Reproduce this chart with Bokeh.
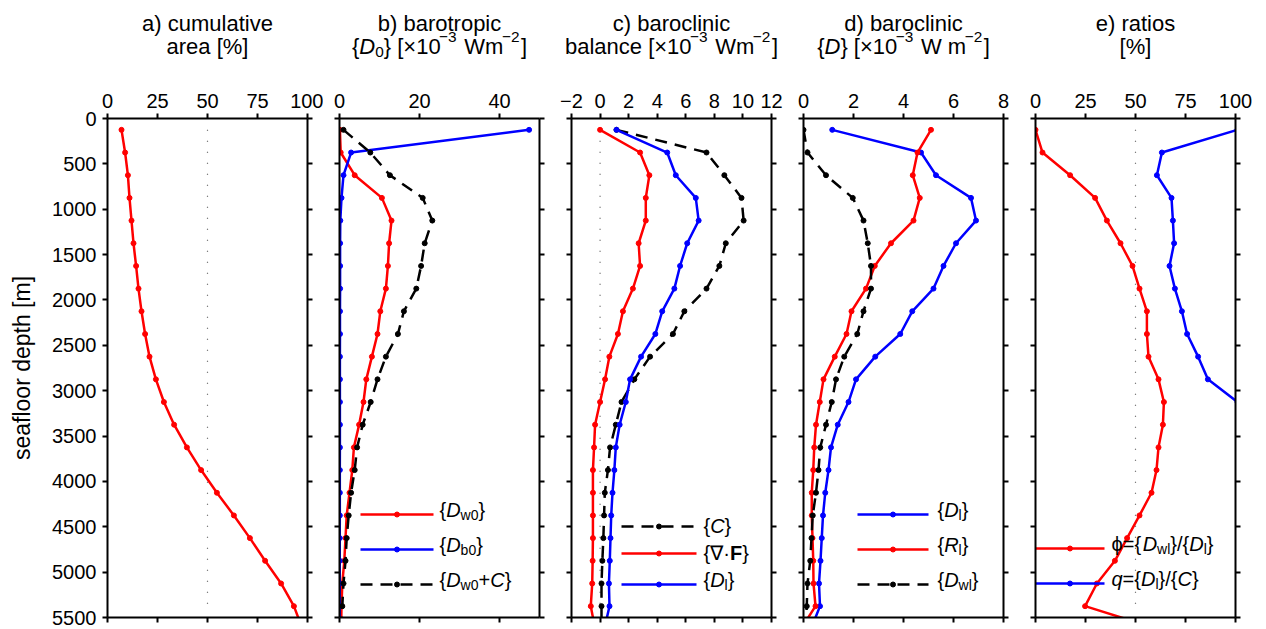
from bokeh.plotting import figure
from bokeh.models import Label, LinearAxis, FixedTicker, CustomJSTickFormatter, Range1d
from bokeh.layouts import row, column
from bokeh.embed import file_html
from bokeh.resources import INLINE

FONT = "Liberation Sans"

# ---------------- data ----------------
depth = [125, 375, 625, 875, 1125, 1375, 1625, 1875, 2125, 2375, 2625, 2875,
         3125, 3375, 3625, 3875, 4125, 4375, 4625, 4875, 5125, 5375, 5625]

# a) cumulative area [%]
area = [7.0, 8.8, 10.2, 11.0, 12.0, 13.0, 14.3, 15.5, 17.0, 18.8, 21.0, 24.2,
        28.2, 33.3, 39.7, 46.8, 54.7, 63.2, 71.2, 78.8, 86.8, 93.2, 97.5]

# b) barotropic
D_w0 = [0.1, 0.3, 3.8, 10.6, 13.0, 12.4, 12.1, 11.6, 10.2, 9.5, 8.1, 6.7,
        6.0, 4.9, 3.6, 3.2, 2.5, 1.8, 1.5, 1.2, 0.7, 0.5, 0.4]
D_b0 = [47.4, 2.9, 1.0, 0.5, 0.2, 0.15, 0.15, 0.15, 0.12, 0.12, 0.1, 0.1,
        0.1, 0.1, 0.1, 0.08, 0.08, 0.08, 0.06, 0.06, 0.06, 0.05, 0.05]
D_w0C = [1.0, 7.7, 12.6, 20.8, 23.2, 21.3, 20.4, 19.2, 16.1, 14.6, 11.6, 9.5,
         7.8, 5.8, 4.4, 3.8, 2.9, 2.3, 1.8, 1.5, 1.0, 0.7, 0.5]

# c) baroclinic balance
C = [1.15, 7.45, 8.7, 9.9, 10.05, 8.8, 8.35, 7.45, 5.9, 5.1, 3.5, 2.4,
     1.5, 1.1, 0.7, 0.55, 0.33, 0.28, 0.23, 0.16, 0.1, 0.1, 0.1]
divF = [0.0, 2.8, 3.45, 3.2, 3.2, 2.7, 2.8, 2.3, 1.6, 1.25, 0.65, 0.35,
        0.0, -0.35, -0.42, -0.5, -0.5, -0.5, -0.5, -0.52, -0.55, -0.65, -0.35]
D_l = [1.15, 4.7, 5.3, 6.7, 6.9, 6.1, 5.6, 5.2, 4.35, 3.87, 2.87, 2.1,
       1.8, 1.37, 1.1, 1.0, 0.87, 0.78, 0.73, 0.68, 0.62, 0.66, 0.3]

# d) baroclinic
R_l = [5.1, 4.56, 4.37, 4.65, 4.4, 3.5, 2.85, 2.5, 1.92, 1.72, 1.25, 0.8,
       0.65, 0.5, 0.43, 0.39, 0.33, 0.33, 0.36, 0.39, 0.4, 0.48, -0.1]
D_wl = [0.0, 0.16, 0.9, 1.97, 2.4, 2.57, 2.7, 2.7, 2.4, 2.15, 1.63, 1.3,
        1.13, 0.9, 0.67, 0.6, 0.5, 0.37, 0.32, 0.27, 0.16, 0.13, 0.1]

# e) ratios [%]
phi = [0.0, 3.5, 17.3, 29.8, 35.7, 42.5, 48.5, 52.0, 55.7, 55.7, 56.5, 61.5,
       64.2, 63.7, 61.5, 60.5, 58.0, 52.0, 45.8, 39.7, 30.7, 24.8, 61.0]
q = [101.0, 63.2, 60.7, 68.0, 68.7, 69.3, 67.0, 69.7, 73.2, 75.8, 81.3, 86.2,
     101.0, 123.0, 157.0, 182.0, 270.0, 286.0, 326.0, 437.0, 650.0, 650.0, 700.0]

xlims = [(0, 100), (0, 50), (-2, 12), (0, 8), (0, 100)]
xticks = [[0, 25, 50, 75, 100], [0, 20, 40], [-2, 0, 2, 4, 6, 8, 10, 12],
          [0, 2, 4, 6, 8], [0, 25, 50, 75, 100]]
yticks = list(range(0, 5501, 500))
ylim = (5500, 0)
ref_lines = {0: 50, 2: 0, 4: 50}

RED, BLUE, BLACK = "#ff0000", "#0000ff", "#000000"

# ------------- text helper (rich text with sub/superscripts) -------------
W = {' ': 278, '%': 889, '(': 333, ')': 333, '+': 584, '-': 333, '.': 278,
     '/': 278, '=': 584, '[': 278, ']': 278, '{': 334, '}': 334, '×': 584,
     '−': 584, '·': 278, '∇': 713, 'ϕ': 640,
     'a': 556, 'b': 556, 'c': 500, 'd': 556, 'e': 556, 'f': 278, 'g': 556,
     'h': 556, 'i': 222, 'j': 222, 'k': 500, 'l': 222, 'm': 833, 'n': 556,
     'o': 556, 'p': 556, 'q': 556, 'r': 333, 's': 500, 't': 278, 'u': 556,
     'v': 500, 'w': 722, 'x': 500, 'y': 500, 'z': 500,
     'C': 722, 'D': 722, 'F': 611, 'R': 722, 'W': 944}

BASE_FIX = 8.0  # rendered text sits lower than requested baseline


def tw(s, fs):
    return sum(W.get(c, 556) for c in s) / 1000.0 * fs


def rich(p, x, y, pieces, size, anchor="left", dy=0.0):
    items = []
    for piece in pieces:
        text, kind = piece if isinstance(piece, tuple) else (piece, "n")
        scale = 0.7 if kind in ("sub", "sup") else 1.0
        shift = {"sub": -0.26 * size, "sup": 0.4 * size}.get(kind, 0.0)
        nudge = -1.5 if kind == "sup" else 0.0
        style = {"i": "italic", "b": "bold"}.get(kind, "normal")
        fs = size * scale
        items.append((text, fs, shift, style, tw(text, fs), nudge))
    total = sum(it[4] for it in items)
    cur = -total / 2.0 if anchor == "center" else 0.0
    for text, fs, shift, style, w, nudge in items:
        body = text.lstrip(" ")
        lead = tw(text[:len(text) - len(body)], fs)
        p.add_layout(Label(x=x, y=y, x_offset=cur + lead + nudge,
                           y_offset=dy + shift + BASE_FIX,
                           text=body.rstrip(" "),
                           text_font=FONT, text_font_size=f"{fs:.1f}px",
                           text_font_style=style, text_baseline="alphabetic",
                           text_align="left", text_color="black"))
        cur += w


titles = [
    (["a) cumulative"], ["area [%]"]),
    (["b) barotropic"], ["{", ("D", "i"), ("0", "sub"), "} [×10", ("−3", "sup"), " Wm", ("−2", "sup"), "]"]),
    (["c) baroclinic"], ["balance [×10", ("−3", "sup"), " Wm", ("−2", "sup"), "]"]),
    (["d) baroclinic"], ["{", ("D", "i"), "} [×10", ("−3", "sup"), " W m", ("−2", "sup"), "]"]),
    (["e) ratios"], ["[%]"]),
]

series = [
    [(area, RED, "solid")],
    [(D_w0, RED, "solid"), (D_b0, BLUE, "solid"), (D_w0C, BLACK, "dashed")],
    [(C, BLACK, "dashed"), (divF, RED, "solid"), (D_l, BLUE, "solid")],
    [(D_l, BLUE, "solid"), (R_l, RED, "solid"), (D_wl, BLACK, "dashed")],
    [(phi, RED, "solid"), (q, BLUE, "solid")],
]

# legend layout: (line start px, line end px, text px, [(row y px, color, dash, pieces, dy)])
legends = {
    1: (21, 94, 100, [(396, RED, "solid", ["{", ("D", "i"), ("w0", "sub"), "}"], -3),
                      (431, BLUE, "solid", ["{", ("D", "i"), ("b0", "sub"), "}"], -3),
                      (466, BLACK, "dashed", ["{", ("D", "i"), ("w0", "sub"), "+", ("C", "i"), "}"], -3)]),
    2: (50, 125, 132, [(408, BLACK, "dashed", ["{", ("C", "i"), "}"], -7),
                       (435, RED, "solid", ["{∇·", ("F", "b"), "}"], -7),
                       (466, BLUE, "solid", ["{", ("D", "i"), ("l", "sub"), "}"], -3)]),
    3: (54, 125, 134, [(396, BLUE, "solid", ["{", ("D", "i"), ("l", "sub"), "}"], -3),
                       (431, RED, "solid", ["{", ("R", "i"), ("l", "sub"), "}"], -3),
                       (466, BLACK, "dashed", ["{", ("D", "i"), ("wl", "sub"), "}"], -3)]),
    4: (0, 69, 76, [(430, RED, "solid", ["ϕ={", ("D", "i"), ("wl", "sub"), "}/{", ("D", "i"), ("l", "sub"), "}"], -3),
                    (465, BLUE, "solid", [("q", "i"), "={", ("D", "i"), ("l", "sub"), "}/{", ("C", "i"), "}"], -3)]),
}

FW, FH = 200, 499
LEFT0, GAP, RIGHT_LAST = 107, 16, 26
TITLE_H = 70
TOP = 118 - TITLE_H


def style_axis(ax, ticks, labels=True, overrides=None):
    ax.ticker = FixedTicker(ticks=ticks)
    ax.axis_line_width = 2
    ax.axis_line_color = "black"
    ax.major_tick_line_width = 2
    ax.major_tick_in = 0
    ax.major_tick_out = 5
    ax.minor_tick_in = 0
    ax.minor_tick_out = 0
    ax.major_label_standoff = 6
    ax.major_label_text_font = FONT
    ax.major_label_text_color = "black"
    if labels:
        ax.major_label_text_font_size = "20px"
        if overrides:
            ax.major_label_overrides = overrides
    else:
        ax.formatter = CustomJSTickFormatter(code="return ''")
        ax.major_label_text_font_size = "0px"


figs = []
centers = []
xpos = 0
for i in range(5):
    x0, x1 = xlims[i]
    bl = LEFT0 if i == 0 else GAP
    br = RIGHT_LAST if i == 4 else GAP
    centers.append(xpos + bl + FW / 2.0)
    xpos += bl + FW + br
    p = figure(frame_width=FW, frame_height=FH,
               x_range=Range1d(x0, x1), y_range=Range1d(*ylim),
               x_axis_location="above",
               min_border_left=bl, min_border_right=br,
               min_border_top=TOP, min_border_bottom=12,
               output_backend="svg", toolbar_location=None, tools="")
    p.xgrid.visible = False
    p.ygrid.visible = False
    p.outline_line_color = None
    p.background_fill_color = "white"
    p.border_fill_color = "white"

    ov = {t: str(t).replace("-", "\u2212") for t in xticks[i] if t < 0}
    style_axis(p.xaxis[0], xticks[i], True, ov)
    style_axis(p.yaxis[0], yticks, i == 0)
    if i == 0:
        p.yaxis[0].axis_label = "seafloor depth [m]"
        p.yaxis[0].axis_label_text_font = FONT
        p.yaxis[0].axis_label_text_font_size = "23px"
        p.yaxis[0].axis_label_text_font_style = "normal"
        p.yaxis[0].axis_label_text_color = "black"
        p.yaxis[0].axis_label_standoff = 14
    bx = LinearAxis()
    style_axis(bx, xticks[i], False)
    p.add_layout(bx, "below")
    ry = LinearAxis()
    style_axis(ry, yticks, False)
    p.add_layout(ry, "right")

    if i in ref_lines:
        xr = ref_lines[i]
        p.segment(x0=[xr], y0=[depth[0]], x1=[xr], y1=[depth[-2]],
                  line_color="#555555", line_width=1.2, line_dash="1 10")

    for vals, col, dash in series[i]:
        ld = "12 8" if dash == "dashed" else "solid"
        p.line(vals, depth, line_color=col, line_width=2.5, line_dash=ld)
        p.scatter(vals, depth, size=5, fill_color=col, line_color=col)

    # legend
    if i in legends:
        a, b, tx, rows = legends[i]
        sx = lambda px: x0 + px / FW * (x1 - x0)
        sy = lambda py: py / FH * (ylim[0] - ylim[1])
        for ry_px, col, dash, pieces, tdy in rows:
            yy = sy(ry_px)
            ld = "12 8" if dash == "dashed" else "solid"
            p.line([sx(a), sx(b)], [yy, yy], line_color=col, line_width=2.5, line_dash=ld)
            p.scatter([sx((a + b) / 2)], [yy], size=5, fill_color=col, line_color=col)
            rich(p, sx(tx), yy, pieces, 20, dy=tdy)

    figs.append(p)

# title strip above the panels (pixel coordinates)
total_w = xpos
t = figure(frame_width=total_w, frame_height=TITLE_H,
           x_range=Range1d(0, total_w), y_range=Range1d(TITLE_H, 0),
           x_axis_type=None, y_axis_type=None, min_border=0,
           output_backend="svg", toolbar_location=None, tools="")
t.xgrid.visible = False
t.ygrid.visible = False
t.outline_line_color = None
for i in range(5):
    l1, l2 = titles[i]
    rich(t, centers[i], 30.5, l1, 22, anchor="center")
    rich(t, centers[i], 53.5, l2, 22, anchor="center")

layout = column(t, row(*figs))
open("out.html", "w").write(file_html(layout, INLINE))
